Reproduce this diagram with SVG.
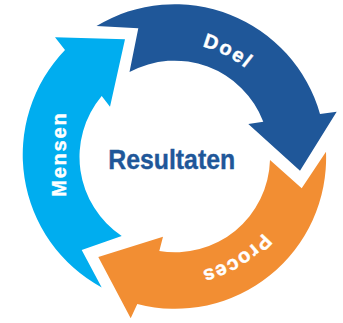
<svg xmlns="http://www.w3.org/2000/svg" width="343" height="323" viewBox="0 0 343 323">
<style>
.lbl{font-family:"Liberation Sans",Arial,sans-serif;font-weight:bold;fill:#ffffff;stroke:#ffffff;stroke-width:0.4;font-size:20px}
.ctr{font-family:"Liberation Sans",Arial,sans-serif;font-weight:bold;fill:#1f5799;stroke:#1f5799;stroke-width:0.4;font-size:28px}
</style>
<defs>
<path id="arcDoel" d="M 135 49.9 A 114 114 0 0 1 283.6 125.6" fill="none"/>
<path id="arcProces" d="M 289.2 177.3 A 117 117 0 0 1 139.8 268.9" fill="none"/>
</defs>
<rect width="343" height="323" fill="#ffffff"/>
<g id="node-doel">
<path d="M 96.5 26 L 138.3 28.3 L 129.5 72 A 95 95 0 0 1 263.3 121.7 L 248.3 124 L 300 170.7 L 336.7 111.7 L 320 114 A 151 151 0 0 0 96.5 26 Z" fill="#1f5799"/>
<text class="lbl" letter-spacing="1.8"><textPath href="#arcDoel" startOffset="50%" text-anchor="middle">Doel</textPath></text>
</g>
<g id="node-proces">
<path d="M 326 151.7 L 301.7 188.3 L 270 160 A 95 95 0 0 1 159.3 251 L 163 236.7 L 98.3 257 L 130.7 318.3 L 137.3 304 A 151 151 0 0 0 326 151.7 Z" fill="#f28e33"/>
<text class="lbl" letter-spacing="1.2"><textPath href="#arcProces" startOffset="50%" text-anchor="middle">Proces</textPath></text>
</g>
<g id="node-mensen">
<path d="M 101.7 287.5 L 81.7 250 L 121.7 236 A 95 95 0 0 1 101.7 96 L 110 106.7 L 125 39.3 L 55 37.3 L 65 50 A 151 151 0 0 0 101.7 287.5 Z" fill="#00adef"/>
<text class="lbl" transform="translate(66,154.2) rotate(-90)" text-anchor="middle" letter-spacing="1.8">Mensen</text>
</g>
<g id="node-center">
<text class="ctr" x="171.7" y="168.5" text-anchor="middle" textLength="127" lengthAdjust="spacingAndGlyphs">Resultaten</text>
</g>
<g id="connectors"></g>
</svg>
